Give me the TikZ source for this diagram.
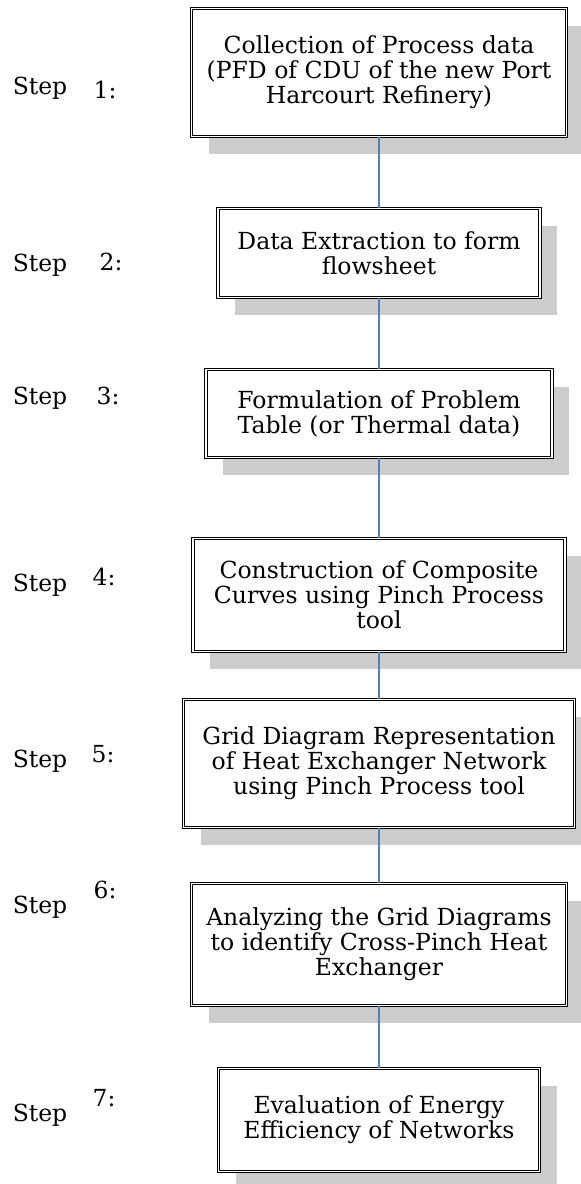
\documentclass[tikz,border=0pt]{standalone}
\usepackage{fontspec}
\setmainfont{DejaVu Serif}
\usetikzlibrary{shadows}

\definecolor{linkblue}{HTML}{4F81BD}

\begin{document}
\begin{tikzpicture}[
    x=1pt, y=-1pt,
    every node/.style={font=\fontsize{23.5}{25}\selectfont},
    stepbox/.style={rectangle, draw, double, double distance=1.6pt, line width=0.75pt, fill=white, align=center, inner sep=0pt,
        drop shadow={shadow xshift=17pt, shadow yshift=-17pt, fill=black!20, opacity=1}},
    steptext/.style={inner sep=0pt},
    link/.style={draw=linkblue, line width=1.1pt}
]
\useasboundingbox (0,0) rectangle (581,1184);

% ============ PROCESS BOXES ============
\node[stepbox, minimum width=375, minimum height=128] (s1) at (379, 72.5) {Collection of Process data\\(PFD of CDU of the new Port\\Harcourt Refinery)};
\node[stepbox, minimum width=322, minimum height=89] (s2) at (379, 253) {Data Extraction to form\\flowsheet};
\node[stepbox, minimum width=346, minimum height=88] (s3) at (379, 413.5) {Formulation of Problem\\Table (or Thermal data)};
\node[stepbox, minimum width=372, minimum height=113] (s4) at (379, 595) {Construction of Composite\\Curves using Pinch Process\\tool};
\node[stepbox, minimum width=391, minimum height=128] (s5) at (379, 763.5) {Grid Diagram Representation\\of Heat Exchanger Network\\using Pinch Process tool};
\node[stepbox, minimum width=375, minimum height=122] (s6) at (379, 944.5) {Analyzing the Grid Diagrams\\to identify Cross-Pinch Heat\\Exchanger};
\node[stepbox, minimum width=321, minimum height=103] (s7) at (379, 1120) {Evaluation of Energy\\Efficiency of Networks};

% Connectors
\draw[link] (s1) -- (s2);
\draw[link] (s2) -- (s3);
\draw[link] (s3) -- (s4);
\draw[link] (s4) -- (s5);
\draw[link] (s5) -- (s6);
\draw[link] (s6) -- (s7);

% ============ STEP LABELS ============
\node[steptext] (l1) at (40, 88) {Step};
\node[steptext] (n1) at (105, 90) {1:};
\node[steptext] (l2) at (40, 265) {Step};
\node[steptext] (n2) at (111, 262) {2:};
\node[steptext] (l3) at (40, 398) {Step};
\node[steptext] (n3) at (108, 396) {3:};
\node[steptext] (l4) at (40, 585) {Step};
\node[steptext] (n4) at (104, 577) {4:};
\node[steptext] (l5) at (40, 761) {Step};
\node[steptext] (n5) at (103, 754) {5:};
\node[steptext] (l6) at (40, 907) {Step};
\node[steptext] (n6) at (105, 890) {6:};
\node[steptext] (l7) at (40, 1115) {Step};
\node[steptext] (n7) at (104, 1098) {7:};

\end{tikzpicture}
\end{document}
